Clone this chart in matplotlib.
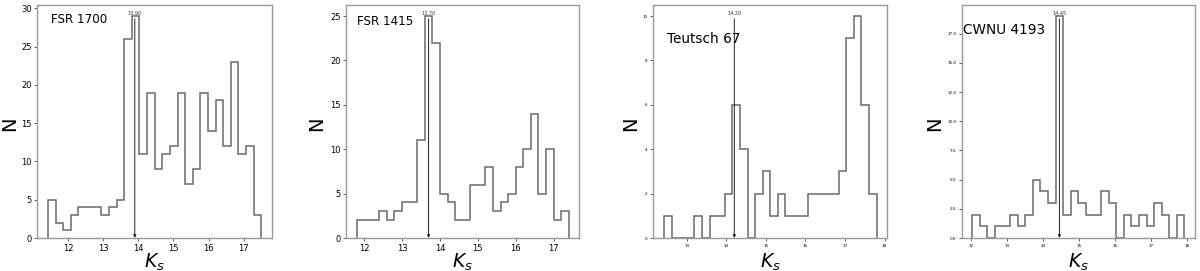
import numpy as np
import matplotlib
matplotlib.use("Agg")
import matplotlib.pyplot as plt

# ---- data ----
names = ["FSR 1700", "FSR 1415", "Teutsch 67", "CWNU 4193"]
peak_pos = [13.90, 13.70, 14.20, 14.45]
peak_labels = ["13.90", "13.70", "14.20", "14.45"]

bin_lo = [11.43, 11.80, 12.42, 12.03]
bin_hi = [17.50, 17.40, 17.80, 17.92]

counts_fsr1700 = [5, 2, 1, 3, 4, 4, 4, 3, 4, 5, 26, 29, 11, 19, 9, 11, 12, 19, 7, 9,
                  19, 14, 18, 12, 23, 11, 12, 3]
counts_fsr1415 = [2, 2, 2, 3, 2, 3, 4, 4, 11, 25, 22, 5, 4, 2, 2, 6, 6, 8, 3, 4,
                  5, 8, 10, 14, 5, 10, 2, 3]
counts_teutsch67 = [1, 0, 0, 0, 1, 0, 1, 1, 2, 6, 4, 0, 2, 3, 1, 2, 1, 1, 1, 2,
                    2, 2, 2, 3, 9, 10, 6, 2]
counts_cwnu4193 = [2, 1, 0, 1, 1, 2, 1, 2, 5, 4, 3, 19, 2, 4, 3, 2, 2, 4, 3, 0,
                   2, 1, 2, 1, 3, 2, 0, 2]
all_counts = [counts_fsr1700, counts_fsr1415, counts_teutsch67, counts_cwnu4193]

xticks = [[12, 13, 14, 15, 16, 17], [12, 13, 14, 15, 16, 17],
          [13, 14, 15, 16, 17, 18], [12, 13, 14, 15, 16, 17, 18]]

# ---- layout ----
W, H = 1200, 271
fig = plt.figure(figsize=(W / 100, H / 100), dpi=100)
lefts = [37.3, 346.0, 653.3, 961.7]
rights = [272.0, 579.3, 887.3, 1195.0]
top_px, bot_px = 5.0, 238.0
tick_fs = [6.0, 6.0, 3.0, 3.0]
name_fs = [8.6, 8.6, 9.8, 9.8]
name_xy = [(0.057, 0.936), (0.046, 0.928), (0.06, 0.854), (0.004, 0.893)]
ylab_x = [-0.078, -0.085, -0.055, -0.076]

hist_color = "#6a6a6a"
spine_color = "#9a9a9a"

for i in range(4):
    ax = fig.add_axes([lefts[i] / W, 1 - bot_px / H,
                       (rights[i] - lefts[i]) / W, (bot_px - top_px) / H])
    counts = np.array(all_counts[i], dtype=float)
    edges = np.linspace(bin_lo[i], bin_hi[i], len(counts) + 1)
    ax.stairs(counts, edges, color=hist_color, lw=1.1, baseline=0)
    ax.margins(x=0.05, y=0.05)
    ax.set_ylim(bottom=0)
    ax.set_xticks(xticks[i])
    ax.tick_params(labelsize=tick_fs[i], length=2.5, width=0.6, pad=1.5,
                   color="#444444")
    for s in ax.spines.values():
        s.set_color(spine_color)
        s.set_linewidth(1.0)
    ymax = counts.max()
    ax.annotate(peak_labels[i], xy=(peak_pos[i], 0), xytext=(peak_pos[i], ymax),
                ha="center", va="bottom", fontsize=3.6, color="#333333",
                arrowprops=dict(arrowstyle="-|>", color="#222222", lw=0.7,
                                shrinkA=0, shrinkB=0, mutation_scale=4))
    ax.text(name_xy[i][0], name_xy[i][1], names[i], transform=ax.transAxes,
            ha="left", va="center", fontsize=name_fs[i])
    ax.set_ylabel("N", fontsize=14)
    ax.yaxis.set_label_coords(ylab_x[i], 0.49)
    ax.set_xlabel("$K_s$", fontsize=13.5)
    ax.xaxis.set_label_coords(0.5, -0.058)

fig.savefig("out.png", dpi=100)
